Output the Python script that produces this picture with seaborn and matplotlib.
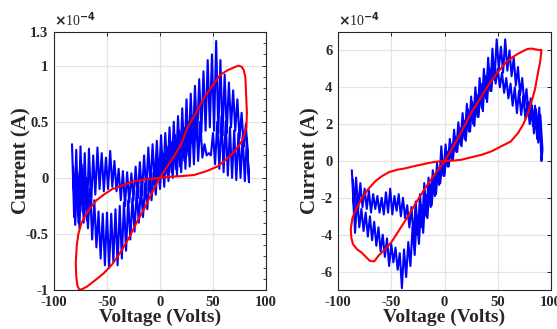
import numpy as np
import matplotlib.pyplot as plt
import seaborn as sns
from matplotlib.ticker import MultipleLocator

# ---- data (current in units of 1e-4 A) ----
# left panel, noisy measured trace: two sweep branches, upper/lower edges of the noise
left_blue_v = [-83, -79, -75, -71, -67, -63, -59, -55, -51, -47, -43, -39, -35, -31,
               -27, -23, -19, -15, -11, -7, -3, 1, 5, 9, 13, 17, 21, 25, 29, 33,
               37, 41, 45, 49, 53, 57, 61, 65, 69, 73, 77, 81]
left_a_hi = [0.30, 0.25, 0.28, 0.22, 0.26, 0.20, 0.27, 0.22, 0.18, 0.24, 0.15, 0.08, 0.06, 0.05,
             0.04, 0.10, 0.14, 0.20, 0.27, 0.30, 0.33, 0.38, 0.40, 0.45, 0.50, 0.55, 0.62, 0.70,
             0.75, 0.82, 0.88, 0.95, 1.05, 1.10, 1.22, 1.05, 0.92, 0.85, 0.78, 0.70, 0.58, 0.48]
left_a_lo = [-0.35, -0.40, -0.30, -0.38, -0.25, -0.15, -0.10, -0.12, -0.10, -0.08, -0.12, -0.20,
             -0.25, -0.22, -0.20, -0.18, -0.15, -0.12, -0.08, -0.05, -0.02, 0.00, 0.03, 0.05,
             0.08, 0.10, 0.15, 0.20, 0.30, 0.35, 0.40, 0.42, 0.45, 0.42, 0.40, 0.38, 0.40,
             0.45, 0.42, 0.35, 0.28, 0.15]
left_b_hi = [0.10, 0.05, 0.12, 0.00, -0.10, -0.20, -0.30, -0.32, -0.31, -0.32, -0.28, -0.25,
             -0.22, -0.20, -0.18, -0.12, -0.08, -0.05, 0.00, 0.05, 0.15, 0.22, 0.28, 0.32,
             0.38, 0.42, 0.45, 0.50, 0.55, 0.58, 0.50, 0.30, 0.22, 0.40, 0.50, 0.55, 0.50,
             0.45, 0.42, 0.40, 0.38, 0.35]
left_b_lo = [-0.42, -0.45, -0.40, -0.45, -0.55, -0.62, -0.72, -0.78, -0.80, -0.75, -0.78, -0.72,
             -0.65, -0.55, -0.48, -0.40, -0.35, -0.28, -0.20, -0.15, -0.10, -0.08, -0.03, 0.00,
             0.02, 0.05, 0.08, 0.10, 0.12, 0.15, 0.18, 0.20, 0.20, 0.12, 0.08, 0.05, 0.02,
             0.00, -0.02, 0.00, -0.03, -0.04]

# left panel, model loop
left_red_v = [0, 6, 13, 20, 26, 34, 42, 50, 57, 64, 70, 74, 77, 79, 80.5, 81, 81.5, 82, 81.5,
              79, 76, 70, 62, 54, 44, 32, 20, 10, 0, -10, -20, -28, -36, -45, -53, -60, -66,
              -70, -74, -77, -78.5, -79.5, -79, -78, -76, -73, -69, -62, -53, -45, -37, -29,
              -21, -14, -8, -3, 0]
left_red_i = [0, 0.09, 0.19, 0.30, 0.45, 0.58, 0.72, 0.83, 0.92, 0.96, 0.985, 1.0, 0.99, 0.96,
              0.90, 0.80, 0.68, 0.58, 0.45, 0.36, 0.31, 0.23, 0.16, 0.10, 0.06, 0.025, 0.015,
              0.01, 0, -0.01, -0.025, -0.04, -0.07, -0.10, -0.15, -0.20, -0.27, -0.33, -0.40,
              -0.50, -0.60, -0.76, -0.88, -0.96, -1.0, -0.99, -0.97, -0.92, -0.85, -0.77,
              -0.66, -0.53, -0.38, -0.26, -0.14, -0.05, 0]

# right panel, noisy measured trace
right_blue_v = [-87, -83, -79, -75, -71, -67, -63, -59, -55, -51, -47, -43, -39, -35, -31,
                -27, -23, -19, -15, -11, -7, -3, 1, 5, 9, 13, 17, 21, 25, 29, 33, 37, 41,
                45, 49, 53, 57, 61, 65, 69, 73, 77, 81, 85, 89]
right_a_hi = [-0.5, -0.9, -1.2, -1.5, -1.6, -1.8, -1.9, -2.0, -1.7, -1.5, -1.9, -1.8, -2.0,
              -2.4, -2.5, -2.2, -1.8, -1.2, -0.9, -0.5, -0.1, 0.8, 0.9, 1.2, 1.7, 2.1, 2.6,
              3.1, 3.5, 4.0, 4.5, 5.0, 5.6, 6.1, 6.6, 6.2, 6.6, 6.0, 5.6, 5.1, 4.5, 3.9, 3.4,
              3.0, 2.9]
right_a_lo = [-2.9, -2.6, -2.5, -2.6, -2.8, -2.6, -2.8, -2.9, -2.8, -2.9, -2.7, -3.0, -3.1,
              -3.6, -4.2, -4.0, -3.6, -3.0, -2.5, -1.9, -1.3, -0.8, -0.3, 0.1, 0.5, 0.9, 1.2,
              1.6, 2.0, 2.4, 2.9, 3.4, 3.8, 4.4, 5.0, 4.8, 4.9, 4.6, 4.1, 3.6, 3.0, 2.5, 1.9,
              1.2, 0.0]
right_b_hi = [-1.0, -2.0, -2.6, -2.8, -3.0, -3.3, -3.6, -4.0, -4.2, -4.5, -4.7, -5.0, -4.8,
              -4.4, -3.6, -3.0, -2.4, -1.8, -1.2, -0.8, -0.4, 0.0, 0.5, 0.9, 1.3, 1.8, 2.2,
              2.8, 3.2, 3.6, 4.2, 4.6, 5.0, 5.3, 5.0, 4.8, 4.5, 4.2, 4.0, 3.8, 3.5, 3.2, 3.0,
              2.8, 2.5]
right_b_lo = [-3.9, -3.6, -3.8, -4.1, -4.3, -4.6, -4.9, -5.2, -5.7, -5.5, -5.9, -6.9, -6.3,
              -5.7, -5.1, -4.5, -3.9, -3.1, -2.4, -1.8, -1.2, -0.8, -0.3, 0.1, 0.5, 0.8, 1.1,
              1.6, 1.9, 2.4, 2.7, 3.2, 3.8, 4.2, 4.0, 3.7, 3.4, 3.0, 2.6, 2.5, 2.3, 2.0, 1.5,
              1.0, 0.6]

# right panel, model loop
right_red_v = [0, 8, 16, 25, 33, 41, 49, 57, 63, 69, 74, 78, 82, 86, 89, 91, 90.5, 89.5, 88,
               86.5, 85, 83, 78.5, 74, 69, 62, 53, 44, 35, 25, 16, 8, 0, -8, -16, -22, -30,
               -37, -44, -52, -59, -65, -72, -78, -83, -86.5, -88, -87.5, -86, -82, -78, -73,
               -70, -66, -62, -56, -50, -42, -34, -26, -19, -12, -6, 0]
right_red_i = [0, 0.75, 1.6, 2.6, 3.35, 4.1, 4.75, 5.3, 5.6, 5.82, 5.97, 6.08, 6.1, 6.05,
               6.02, 6.03, 5.7, 5.28, 4.85, 4.38, 3.9, 3.48, 2.59, 2.0, 1.51, 1.05, 0.79, 0.52,
               0.34, 0.2, 0.07, 0.02, 0, -0.04, -0.12, -0.2, -0.3, -0.4, -0.47, -0.6, -0.83,
               -1.1, -1.55, -2.05, -2.62, -3.1, -3.7, -4.15, -4.51, -4.8, -4.96, -5.25, -5.42,
               -5.45, -5.14, -4.8, -4.42, -3.7, -2.98, -2.2, -1.55, -0.95, -0.47, 0]

x_ticks = [-100, -50, 0, 50, 100]
left_yticks = [-1, -0.5, 0, 0.5, 1, 1.3]
right_yticks = [-6, -4, -2, 0, 2, 4, 6]

SCALE = 1e-4


def noisy_trace(v, a_hi, a_lo, b_hi, b_lo):
    # zigzag between the edges of the noise: branch a left->right, branch b back,
    # the return sweep sampled half way between the forward samples
    v = np.asarray(v, dtype=float)
    xa = np.column_stack([v, v + 2]).ravel()
    ya = np.column_stack([a_hi, a_lo]).ravel()
    xb = np.column_stack([v + 1, v + 3]).ravel()[::-1]
    yb = np.column_stack([b_hi, b_lo]).ravel()[::-1]
    return np.concatenate([xa, xb]), np.concatenate([ya, yb]) * SCALE


sns.set_theme(style="white")
plt.rcParams['font.family'] = ['Liberation Serif', 'DejaVu Serif']
plt.rcParams['font.weight'] = 'bold'
plt.rcParams['axes.labelweight'] = 'bold'

fig = plt.figure(figsize=(5.57, 3.29), dpi=100)
ax1 = fig.add_axes([54 / 557, 39 / 329, 212 / 557, 258 / 329])
ax2 = fig.add_axes([338 / 557, 39 / 329, 213 / 557, 258 / 329])

panels = [
    (ax1, left_blue_v, left_a_hi, left_a_lo, left_b_hi, left_b_lo, left_red_v, left_red_i,
     (-1, 1.3), left_yticks, -4),
    (ax2, right_blue_v, right_a_hi, right_a_lo, right_b_hi, right_b_lo, right_red_v,
     right_red_i, (-7, 7), right_yticks, 0),
]

for ax, bv, ahi, alo, bhi, blo, rv, ri, ylim, yt, ypad in panels:
    bx, by = noisy_trace(bv, ahi, alo, bhi, blo)
    sns.lineplot(x=bx, y=by, sort=False, estimator=None, color='#0000ff', lw=1.5, ax=ax)
    sns.lineplot(x=rv, y=np.asarray(ri) * SCALE, sort=False, estimator=None,
                 color='#ff0000', lw=1.5, ax=ax)

    ax.set_xlim(-100, 100)
    ax.set_ylim(ylim[0] * SCALE, ylim[1] * SCALE)
    ax.set_xticks(x_ticks)
    ax.set_xticklabels([str(t) for t in x_ticks])
    ax.set_yticks([t * SCALE for t in yt])
    ax.set_yticklabels([('%g' % t) for t in yt])
    ax.grid(True, color='#e3e3e3', lw=0.9)
    ax.set_axisbelow(True)
    ax.tick_params(direction='in', top=True, right=True, length=3, width=0.7,
                   labelsize=10.5, pad=4, colors='#262626')
    for s in ax.spines.values():
        s.set_color('#262626')
        s.set_linewidth(0.8)
    ax.set_xlabel('Voltage (Volts)', fontsize=14, labelpad=0, color='#262626')
    ax.set_ylabel('Current (A)', fontsize=15, labelpad=ypad, color='#262626')
    ax.text(0.0, 1.012, r'$\times$10$^{-4}$', transform=ax.transAxes, fontsize=10,
            ha='left', va='bottom', color='#262626', fontweight='normal')

ax1.yaxis.set_minor_locator(MultipleLocator(0.1 * SCALE))
ax1.tick_params(which='minor', direction='in', right=True, length=2, width=0.6)
ax1.yaxis.grid(True, which='major')

fig.savefig('out.png', dpi=100)
